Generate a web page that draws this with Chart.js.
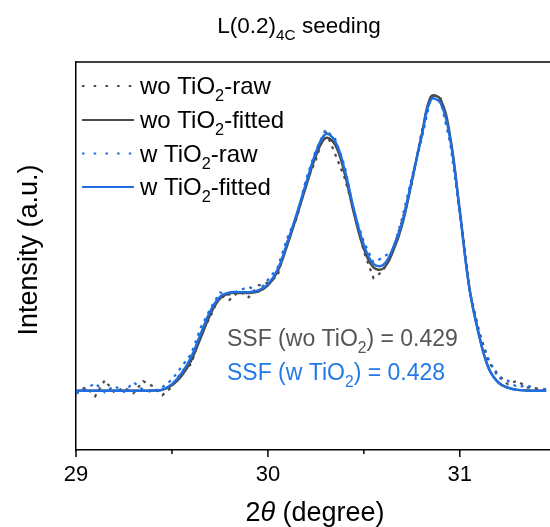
<!DOCTYPE html>
<html><head><meta charset="utf-8">
<script src="https://cdn.jsdelivr.net/npm/chart.js@4/dist/chart.umd.min.js"></script>
<style>html,body{margin:0;padding:0;background:#fff;} canvas{display:block}</style>
</head><body>
<canvas id="c" width="550" height="527"></canvas>
<script>
// ---- data (intensity in arbitrary units) ----
const twoTheta = [29.00,29.05,29.10,29.15,29.20,29.25,29.30,29.35,29.40,29.45,
  29.50,29.55,29.60,29.65,29.70,29.75,29.80,29.85,29.90,29.95,
  30.00,30.05,30.10,30.15,30.20,30.25,30.30,30.35,30.40,30.45,
  30.50,30.55,30.60,30.65,30.70,30.75,30.80,30.85,30.90,30.95,
  31.00,31.05,31.10,31.15,31.20,31.25,31.30,31.35,31.40,31.45];
const rawWoTiO2 = [-1.0,1.2,-1.8,3.5,-0.6,1.0,-0.8,3.2,1.5,-1.5,
  1.3,6.4,8.8,18.6,24.6,31.8,30.2,33.1,31.1,35.0,
  36.0,38.1,49.4,57.4,69.2,76.8,86.4,78.8,70.7,59.5,
  46.2,37.5,39.8,46.6,56.7,69.0,85.8,98.6,97.3,83.6,
  60.8,33.6,20.0,9.4,5.4,2.2,3.3,1.1,0.8,0.2];
const fitWoTiO2 = [0,0,0,0,0,0,0,0,0.1,0.3,
  1.8,4.9,10.0,17.6,25.4,30.6,32.4,32.5,32.5,33.0,
  35.0,39.6,48.2,58.0,68.2,78.0,84.0,81.8,72.2,58.5,
  47.2,41.0,40.6,46.0,55.2,69.6,84.6,97.8,96.8,84.4,
  59.8,34.2,18.6,7.6,2.8,1.0,0.3,0.1,0,0];
const rawWTiO2 = [-0.8,0.6,2.5,-0.5,1.6,-0.4,2.8,0.3,-0.5,1.2,
  3.7,8.0,12.2,21.0,27.3,32.7,31.9,33.3,34.6,32.9,
  36.9,40.8,50.6,58.0,70.6,80.0,86.8,83.8,74.7,59.0,
  49.5,42.7,44.3,46.6,57.5,71.0,83.4,97.8,96.4,82.3,
  59.3,33.5,19.1,10.5,4.3,3.4,1.1,1.9,0.2,0.6];
const fitWTiO2 = [0,0,0,0,0,0,0,0,0.1,0.4,
  2.2,5.8,11.2,19.0,26.5,31.2,32.7,32.8,32.8,33.4,
  35.4,40.2,49.0,58.8,69.2,79.2,85.3,83.0,73.5,59.8,
  48.5,42.2,41.8,47.2,56.0,70.0,84.2,96.8,95.6,83.5,
  59.5,34.0,18.5,7.5,2.8,1.0,0.3,0.1,0,0];
const majorTicks = [29, 30, 31];
const minorTicks = [29.5, 30.5, 31.5];
const seriesNames = ['wo TiO2-raw','wo TiO2-fitted','w TiO2-raw','w TiO2-fitted'];
const ssfValues = [0.429, 0.428];

const GRAY = '#4a4a4a', BLUE = '#1f6fe3', GRAYTXT = '#555555', BLUETXT = '#2379e6';
const FONT = '"Liberation Sans", Arial, sans-serif';

function pts(ys){ return twoTheta.map((x,i)=>({x, y: ys[i]})); }

function drawRich(ctx, parts, x, y, align, size){
  let w = 0; const m = [];
  for (const p of parts){
    const fs = p.sub ? size*0.68 : size;
    ctx.font = (p.it ? 'italic ' : '') + fs + 'px ' + FONT;
    const pw = ctx.measureText(p.t).width; m.push([fs,pw]); w += pw;
  }
  let cx = align === 'center' ? x - w/2 : x;
  ctx.textAlign = 'left'; ctx.textBaseline = 'alphabetic';
  parts.forEach((p,i)=>{
    const [fs,pw] = m[i];
    ctx.font = (p.it ? 'italic ' : '') + fs + 'px ' + FONT;
    ctx.fillStyle = p.color || '#000';
    ctx.fillText(p.t, cx, y + (p.sub ? size*0.3 : 0));
    cx += pw;
  });
}
function tio(prefix, suffix, color){
  return [{t: prefix + 'TiO', color},{t:'2', sub:true, color},{t: suffix, color}];
}

const deco = {
  id: 'deco',
  afterDraw(chart){
    const ctx = chart.ctx, a = chart.chartArea, xs = chart.scales.x;
    ctx.save();
    ctx.strokeStyle = '#000'; ctx.lineWidth = 1.5;
    ctx.beginPath(); ctx.moveTo(a.left, a.top); ctx.lineTo(a.right, a.top); ctx.stroke();
    for (const v of majorTicks){
      const px = xs.getPixelForValue(v);
      ctx.beginPath(); ctx.moveTo(px, a.bottom); ctx.lineTo(px, a.bottom + 7); ctx.stroke();
      drawRich(ctx, [{t: String(v)}], px, a.bottom + 31, 'center', 22);
    }
    for (const v of minorTicks){
      const px = xs.getPixelForValue(v);
      if (px > a.right + 1) continue;
      ctx.beginPath(); ctx.moveTo(px, a.bottom); ctx.lineTo(px, a.bottom + 4); ctx.stroke();
    }
    drawRich(ctx, [{t:'L(0.2)'},{t:'4C', sub:true},{t:' seeding'}], 299, 33, 'center', 22.5);
    drawRich(ctx, [{t:'2'},{t:'θ', it:true},{t:' (degree)'}], 315, 521, 'center', 27);
    ctx.save(); ctx.translate(37, 250); ctx.rotate(-Math.PI/2);
    drawRich(ctx, [{t:'Intensity (a.u.)'}], 0, 0, 'center', 27);
    ctx.restore();
    const rows = [
      {y:94, color:GRAY, dash:[2.5,9.2], w:2.2, parts: tio('wo ', '-raw')},
      {y:128, color:GRAY, dash:[], w:2.2, parts: tio('wo ', '-fitted')},
      {y:161.5, color:BLUE, dash:[2.5,9.2], w:2.2, parts: tio('w ', '-raw')},
      {y:195, color:BLUE, dash:[], w:2.2, parts: tio('w ', '-fitted')}
    ];
    rows.forEach(r=>{
      ctx.strokeStyle = r.color; ctx.lineWidth = r.w; ctx.setLineDash(r.dash);
      ctx.beginPath(); ctx.moveTo(82, r.y - 8); ctx.lineTo(134, r.y - 8); ctx.stroke();
      ctx.setLineDash([]);
      drawRich(ctx, r.parts, 140, r.y, 'left', 24);
    });
    drawRich(ctx, [{t:'SSF (wo TiO', color:GRAYTXT},{t:'2',sub:true,color:GRAYTXT},{t:') = ' + ssfValues[0].toFixed(3), color:GRAYTXT}], 227, 346, 'left', 23);
    drawRich(ctx, [{t:'SSF (w TiO', color:BLUETXT},{t:'2',sub:true,color:BLUETXT},{t:') = ' + ssfValues[1].toFixed(3), color:BLUETXT}], 227, 380, 'left', 23);
    ctx.restore();
  }
};

new Chart(document.getElementById('c'), {
  type: 'line',
  data: {
    datasets: [
      {label: seriesNames[3], data: pts(fitWTiO2), borderColor: BLUE, borderWidth: 2.4, pointRadius: 0, tension: 0.4, order: 0},
      {label: seriesNames[1], data: pts(fitWoTiO2), borderColor: GRAY, borderWidth: 2.4, pointRadius: 0, tension: 0.4, order: 1},
      {label: seriesNames[2], data: pts(rawWTiO2), borderColor: BLUE, borderWidth: 2.2, borderDash: [3,5], pointRadius: 0, tension: 0, order: 2},
      {label: seriesNames[0], data: pts(rawWoTiO2), borderColor: GRAY, borderWidth: 2.2, borderDash: [3,5], pointRadius: 0, tension: 0, order: 3}
    ]
  },
  options: {
    responsive: false, animation: false, devicePixelRatio: 1,
    layout: {padding: {left: 68, top: 62, right: 0, bottom: 69}},
    plugins: {legend: {display: false}, title: {display: false}, tooltip: {enabled: false}},
    scales: {
      x: {type: 'linear', min: 29, max: 31.47, ticks: {display: false}, grid: {display: false},
          border: {display: true, color: '#000', width: 1.5}},
      y: {type: 'linear', min: -19.7, max: 109.3, ticks: {display: false}, grid: {display: false},
          border: {display: true, color: '#000', width: 1.5}}
    }
  },
  plugins: [deco]
});
</script>
</body></html>
